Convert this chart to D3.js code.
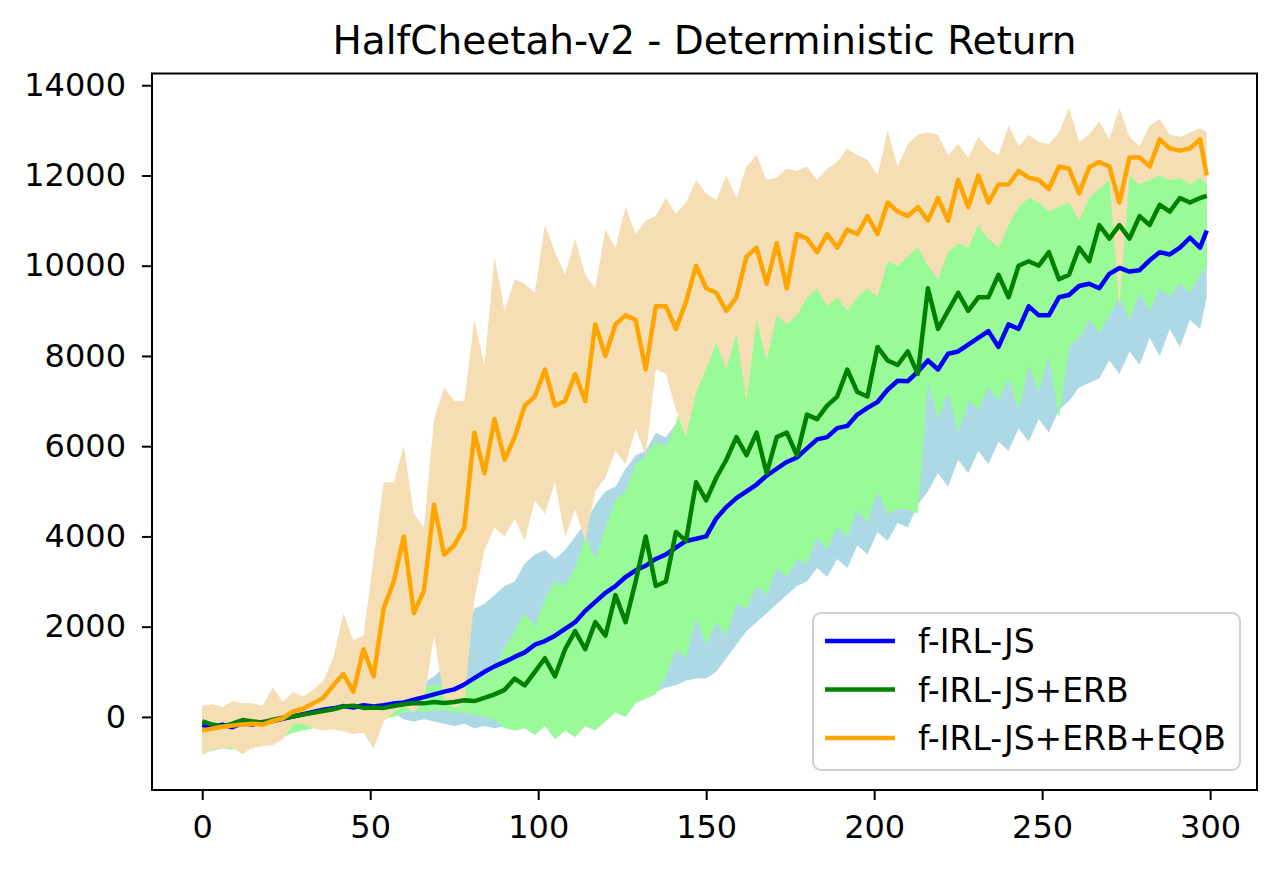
<!DOCTYPE html>
<html>
<head>
<meta charset="utf-8">
<script src="https://cdn.jsdelivr.net/npm/d3@7"></script>
<style>
    body { margin: 0; background: #fff; }
    text { font-family: "DejaVu Sans", sans-serif; fill: #000; }
</style>
</head>
<body>
<svg id="chart"></svg>
<script>
// training iterations, sampled every 3 steps
const steps = d3.range(0, 298, 3).concat([299]);

const seriesNames = ['f-IRL-JS', 'f-IRL-JS+ERB', 'f-IRL-JS+ERB+EQB'];
const xTicks = [0, 50, 100, 150, 200, 250, 300];
const yTicks = [0, 2000, 4000, 6000, 8000, 10000, 12000, 14000];

// f-IRL-JS
const jsMean = [
    -180, -220, -170, -230, -140, -170, -110, -90, -40, 10,
    60, 110, 160, 190, 240, 210, 260, 230, 260, 300,
    320, 380, 440, 500, 560, 610, 720, 860, 1000, 1120,
    1220, 1330, 1430, 1600, 1680, 1800, 1950, 2100, 2350, 2550,
    2750, 2900, 3100, 3250, 3350, 3500, 3600, 3750, 3900, 3950,
    4000, 4400, 4650, 4850, 5000, 5150, 5350, 5500, 5650, 5750,
    5950, 6150, 6200, 6400, 6450, 6700, 6850, 6980, 7250, 7450,
    7440, 7650, 7900, 7700, 8050, 8100, 8250, 8400, 8550, 8200,
    8700, 8600, 9100, 8900, 8900, 9300, 9350, 9550, 9600, 9500,
    9820, 9950, 9870, 9900, 10120, 10300, 10250, 10400, 10620, 10400,
    10780
];
const jsUpper = [
    200, 150, 180, 150, 100, 150, 120, 150, 200, 250,
    300, 350, 400, 400, 450, 500, 480, 500, 500, 550,
    600, 650, 750, 900, 1100, 1400, 1700, 2400, 2500, 2700,
    2900, 3000, 3400, 3600, 3700, 3500, 3700, 4000, 4300, 4700,
    5000, 5100, 5500, 5800, 5900, 6300, 6200, 6500, 6600, 6600,
    5700, 6100, 6400, 6600, 6800, 7000, 7200, 7300, 7500, 7600,
    7700, 8000, 7900, 8100, 8100, 8400, 8600, 8700, 9000, 9200,
    9200, 9400, 9600, 9400, 9800, 9800, 10000, 10100, 10300, 9900,
    10400, 10300, 10800, 10600, 10600, 11000, 11000, 11200, 11300, 11200,
    11100, 11250, 11200, 11200, 11400, 11600, 11500, 11700, 11900, 11700,
    12000
];
const jsLower = [
    -500, -450, -400, -450, -350, -400, -500, -300, -250, -200,
    -150, -100, -80, -50, -50, 0, 0, 20, 50, 80,
    -50, -100, -50, -100, -150, -200, -150, -250, -200, -250,
    -200, -150, -200, -100, -100, -50, 0, 50, 100, 150,
    200, 300, 350, 400, 500, 550, 650, 700, 800, 850,
    850, 1000, 1300, 1600, 1900, 2100, 2300, 2500, 2700, 2900,
    3000, 3300, 3100, 3500, 3300, 3800, 3600, 4100, 3900, 4300,
    4200, 4700, 5000, 5400, 5100, 5700, 5400, 5900, 5600, 6100,
    5900, 6400, 6100, 6600, 6300, 6800, 7000, 7300, 7400, 7500,
    7900, 7600, 8100, 7800, 8400, 8000, 8600, 8200, 8800, 8600,
    9300
];

// f-IRL-JS+ERB
const erbMean = [
    -100, -170, -210, -150, -70, -100, -130, -60, -20, 10,
    50, 90, 130, 170, 230, 250, 200, 210, 200, 240,
    280, 310, 300, 330, 310, 330, 370, 350, 420, 500,
    600, 850, 700, 1000, 1300, 900, 1500, 1900, 1500, 2100,
    1800, 2700, 2100, 3000, 4000, 2900, 3000, 4100, 3900, 5200,
    4800, 5300, 5700, 6200, 5800, 6300, 5400, 6200, 6300, 5800,
    6700, 6600, 6900, 7100, 7700, 7200, 7100, 8200, 7900, 7800,
    8100, 7600, 9500, 8600, 9000, 9400, 9000, 9300, 9300, 9800,
    9300, 10000, 10100, 10000, 10300, 9700, 9800, 10400, 10100, 10900,
    10600, 10900, 10600, 11100, 10900, 11350, 11200, 11500, 11400, 11500,
    11550
];
const erbUpper = [
    200, 150, 180, 150, 150, 120, 100, 150, 150, 200,
    250, 300, 350, 400, 450, 500, 450, 450, 450, 500,
    550, 600, 650, 700, 700, 650, 700, 800, 900, 1100,
    1500, 1900, 2300, 2000, 2600, 3000, 2900, 3300, 4000, 3500,
    4200, 4800, 5000, 5600, 5800, 6100, 6000, 6500, 7400, 8000,
    8300, 8800, 8400, 9100, 8600, 9300, 8700, 9400, 9800, 9500,
    9800, 10000, 9700, 9900, 9600, 10000, 10100, 9900, 10600, 10500,
    10800, 11100, 11500, 10600, 11300, 11500, 11000, 11600, 11400, 11300,
    11300, 11800, 12000, 11700, 12100, 11900, 11800, 12200, 12000, 12400,
    12300, 12600, 12400, 12500, 12200, 12500, 12300, 12100, 12200, 12100,
    11900
];
const erbLower = [
    -800, -750, -700, -720, -650, -700, -600, -550, -450, -350,
    -300, -250, -200, -150, -100, -100, -80, -60, -40, 0,
    100, 150, 100, 150, 150, 100, 100, 50, 0, -50,
    -250, -300, -250, -400, -200, -500, -300, -450, -200, -300,
    -100, 100, 0, 300, 400, 500, 900, 1500, 1300, 2200,
    1600, 2100, 1800, 2500, 2400, 2900, 2700, 3300, 3100, 3500,
    3400, 4000, 3700, 4200, 4000, 4600, 4300, 5000, 4500, 4600,
    4600, 4500, 7400, 6600, 7200, 6300, 7000, 6800, 7300, 7000,
    7500, 6800, 7800, 7200, 8000, 6600, 8200, 8400, 8800, 8500,
    8900, 9300, 8800, 9400, 9000, 9500, 9300, 9600, 9400, 9800,
    10000
];

// f-IRL-JS+ERB+EQB
const eqbMean = [
    -300, -260, -220, -190, -170, -150, -170, -90, -30, 120,
    180, 300, 420, 700, 950, 560, 1500, 900, 2400, 3000,
    4000, 2300, 2800, 4700, 3600, 3800, 4200, 6300, 5400, 6600,
    5700, 6200, 6900, 7100, 7700, 6900, 7000, 7600, 7000, 8700,
    8000, 8700, 8900, 8800, 7700, 9100, 9100, 8600, 9200, 10000,
    9500, 9400, 9000, 9300, 10200, 10400, 9600, 10500, 9500, 10700,
    10600, 10300, 10700, 10400, 10800, 10700, 11100, 10700, 11400, 11200,
    11100, 11300, 11000, 11500, 11000, 11900, 11300, 12000, 11400, 11800,
    11800, 12100, 11950, 11900, 11700, 12200, 12150, 11600, 12180, 12300,
    12200, 11400, 12400, 12400, 12200, 12800, 12600, 12550, 12600, 12800,
    12000
];
const eqbUpper = [
    250, 280, 220, 350, 300, 300, 250, 650, 330, 550,
    450, 600, 800, 1300, 2300, 1700, 1800, 3500, 5200, 5200,
    6000, 4500, 4200, 6600, 7300, 7000, 7000, 8800, 7800, 10200,
    9000, 9700, 9600, 9400, 10900, 10300, 9800, 10600, 9800, 9500,
    10800, 10400, 11300, 10700, 11000, 11100, 11500, 11150, 11400, 11900,
    11600, 11450, 12000, 11500, 12200, 12450, 11900, 11950, 12150, 12100,
    12200, 11900, 12150, 12300, 12600, 12450, 12350, 12000, 13000, 12200,
    12700, 12900, 12950, 12900, 12450, 12700, 12400, 12850, 12600, 12450,
    13100, 12650, 12900, 12750, 12700, 12950, 13500, 12750, 12900, 13200,
    12800, 13500, 12850, 12650, 13100, 13250, 12900, 12850, 12950, 13050,
    12950
];
const eqbLower = [
    -850, -720, -700, -680, -830, -680, -650, -620, -500, -150,
    -150, -250, -300, -280, -320, -380, -350, -700, -100, 100,
    250, 100, 350, 1800, 400, 200, 300, 2600, 3700, 4200,
    4000, 4400, 3900, 4800, 4500, 5200, 4000, 4600, 3900, 5000,
    5300, 5900, 5600, 6400, 5800, 7700, 7600, 6800, 6200, 7200,
    7700, 8300, 7700, 8500, 7000, 8800, 7900, 8900, 8700, 8900,
    9300, 9500, 9100, 9300, 9000, 9300, 9500, 9300, 10100, 10000,
    10200, 10400, 10000, 9700, 10300, 10500, 10400, 10900, 10600, 10400,
    10900, 11300, 11500, 11400, 11200, 11300, 11400, 11000, 11500, 11700,
    11900, 9100, 12000, 11800, 11900, 12000, 11900, 11950, 11800, 11950,
    11800
];

const series = [
    {name: seriesNames[0], mean: jsMean, lo: jsLower, hi: jsUpper, line: 'blue', fill: 'lightblue'},
    {name: seriesNames[1], mean: erbMean, lo: erbLower, hi: erbUpper, line: 'green', fill: 'palegreen'},
    {name: seriesNames[2], mean: eqbMean, lo: eqbLower, hi: eqbUpper, line: 'orange', fill: 'wheat'}
];

const width = 1280;
const height = 870;
const margin = {top: 73.5, right: 23, bottom: 80, left: 152};

const x = d3.scaleLinear()
    .domain([-14.95, 313.95])
    .range([margin.left, width - margin.right]);
const y = d3.scaleLinear()
    .domain([-1620, 14260])
    .range([height - margin.bottom, margin.top]);

const chart = d3.select('#chart')
    .attr('width', width)
    .attr('height', height);

const band = s => d3.area()
    .x((_, i) => x(steps[i]))
    .y0((_, i) => y(s.lo[i]))
    .y1((_, i) => y(s.hi[i]));
const meanLine = d3.line()
    .x((_, i) => x(steps[i]))
    .y(d => y(d));

// bands first, then all lines on top (matplotlib zorder)
chart.append('g')
    .selectAll('path')
    .data(series)
    .enter().append('path')
    .attr('d', s => band(s)(s.mean))
    .style('fill', s => s.fill)
    .style('stroke', 'none');

chart.append('g')
    .selectAll('path')
    .data(series)
    .enter().append('path')
    .attr('d', s => meanLine(s.mean))
    .style('fill', 'none')
    .style('stroke', s => s.line)
    .style('stroke-width', 4.5)
    .style('stroke-linejoin', 'round');

// axes
const xAxis = chart.append('g')
    .attr('transform', `translate(0, ${height - margin.bottom})`)
    .call(d3.axisBottom(x).tickValues(xTicks).tickSize(10).tickPadding(15));
const yAxis = chart.append('g')
    .attr('transform', `translate(${margin.left}, 0)`)
    .call(d3.axisLeft(y).tickValues(yTicks).tickSize(10).tickPadding(16).tickFormat(d3.format('d')));
[xAxis, yAxis].forEach(axis => {
    axis.select('.domain').remove();
    axis.selectAll('line').style('stroke', '#000').style('stroke-width', 2);
    axis.selectAll('text')
        .style('font-size', '32px')
        .style('font-family', '"DejaVu Sans", sans-serif')
        .style('fill', '#000');
});

chart.append('rect')
    .attr('x', margin.left)
    .attr('y', margin.top)
    .attr('width', width - margin.left - margin.right)
    .attr('height', height - margin.top - margin.bottom)
    .style('fill', 'none')
    .style('stroke', '#000')
    .style('stroke-width', 2);

chart.append('text')
    .attr('x', (margin.left + width - margin.right) / 2)
    .attr('y', 54)
    .attr('text-anchor', 'middle')
    .style('font-size', '39px')
    .text('HalfCheetah-v2 - Deterministic Return');

// legend
const legend = chart.append('g')
    .attr('transform', 'translate(813, 613)');
legend.append('rect')
    .attr('width', 427)
    .attr('height', 157)
    .attr('rx', 8)
    .style('fill', '#fff')
    .style('fill-opacity', 0.8)
    .style('stroke', '#d0d0d0')
    .style('stroke-width', 2);
const item = legend.selectAll('g.item')
    .data(series)
    .enter().append('g')
    .classed('item', true)
    .attr('transform', (_, i) => `translate(0, ${28 + i * 48.5})`);
item.append('line')
    .attr('x1', 12)
    .attr('x2', 82)
    .style('stroke', s => s.line)
    .style('stroke-width', 4.5);
item.append('text')
    .attr('x', 105)
    .attr('y', 12)
    .style('font-size', '33px')
    .text(s => s.name);
</script>
</body>
</html>
